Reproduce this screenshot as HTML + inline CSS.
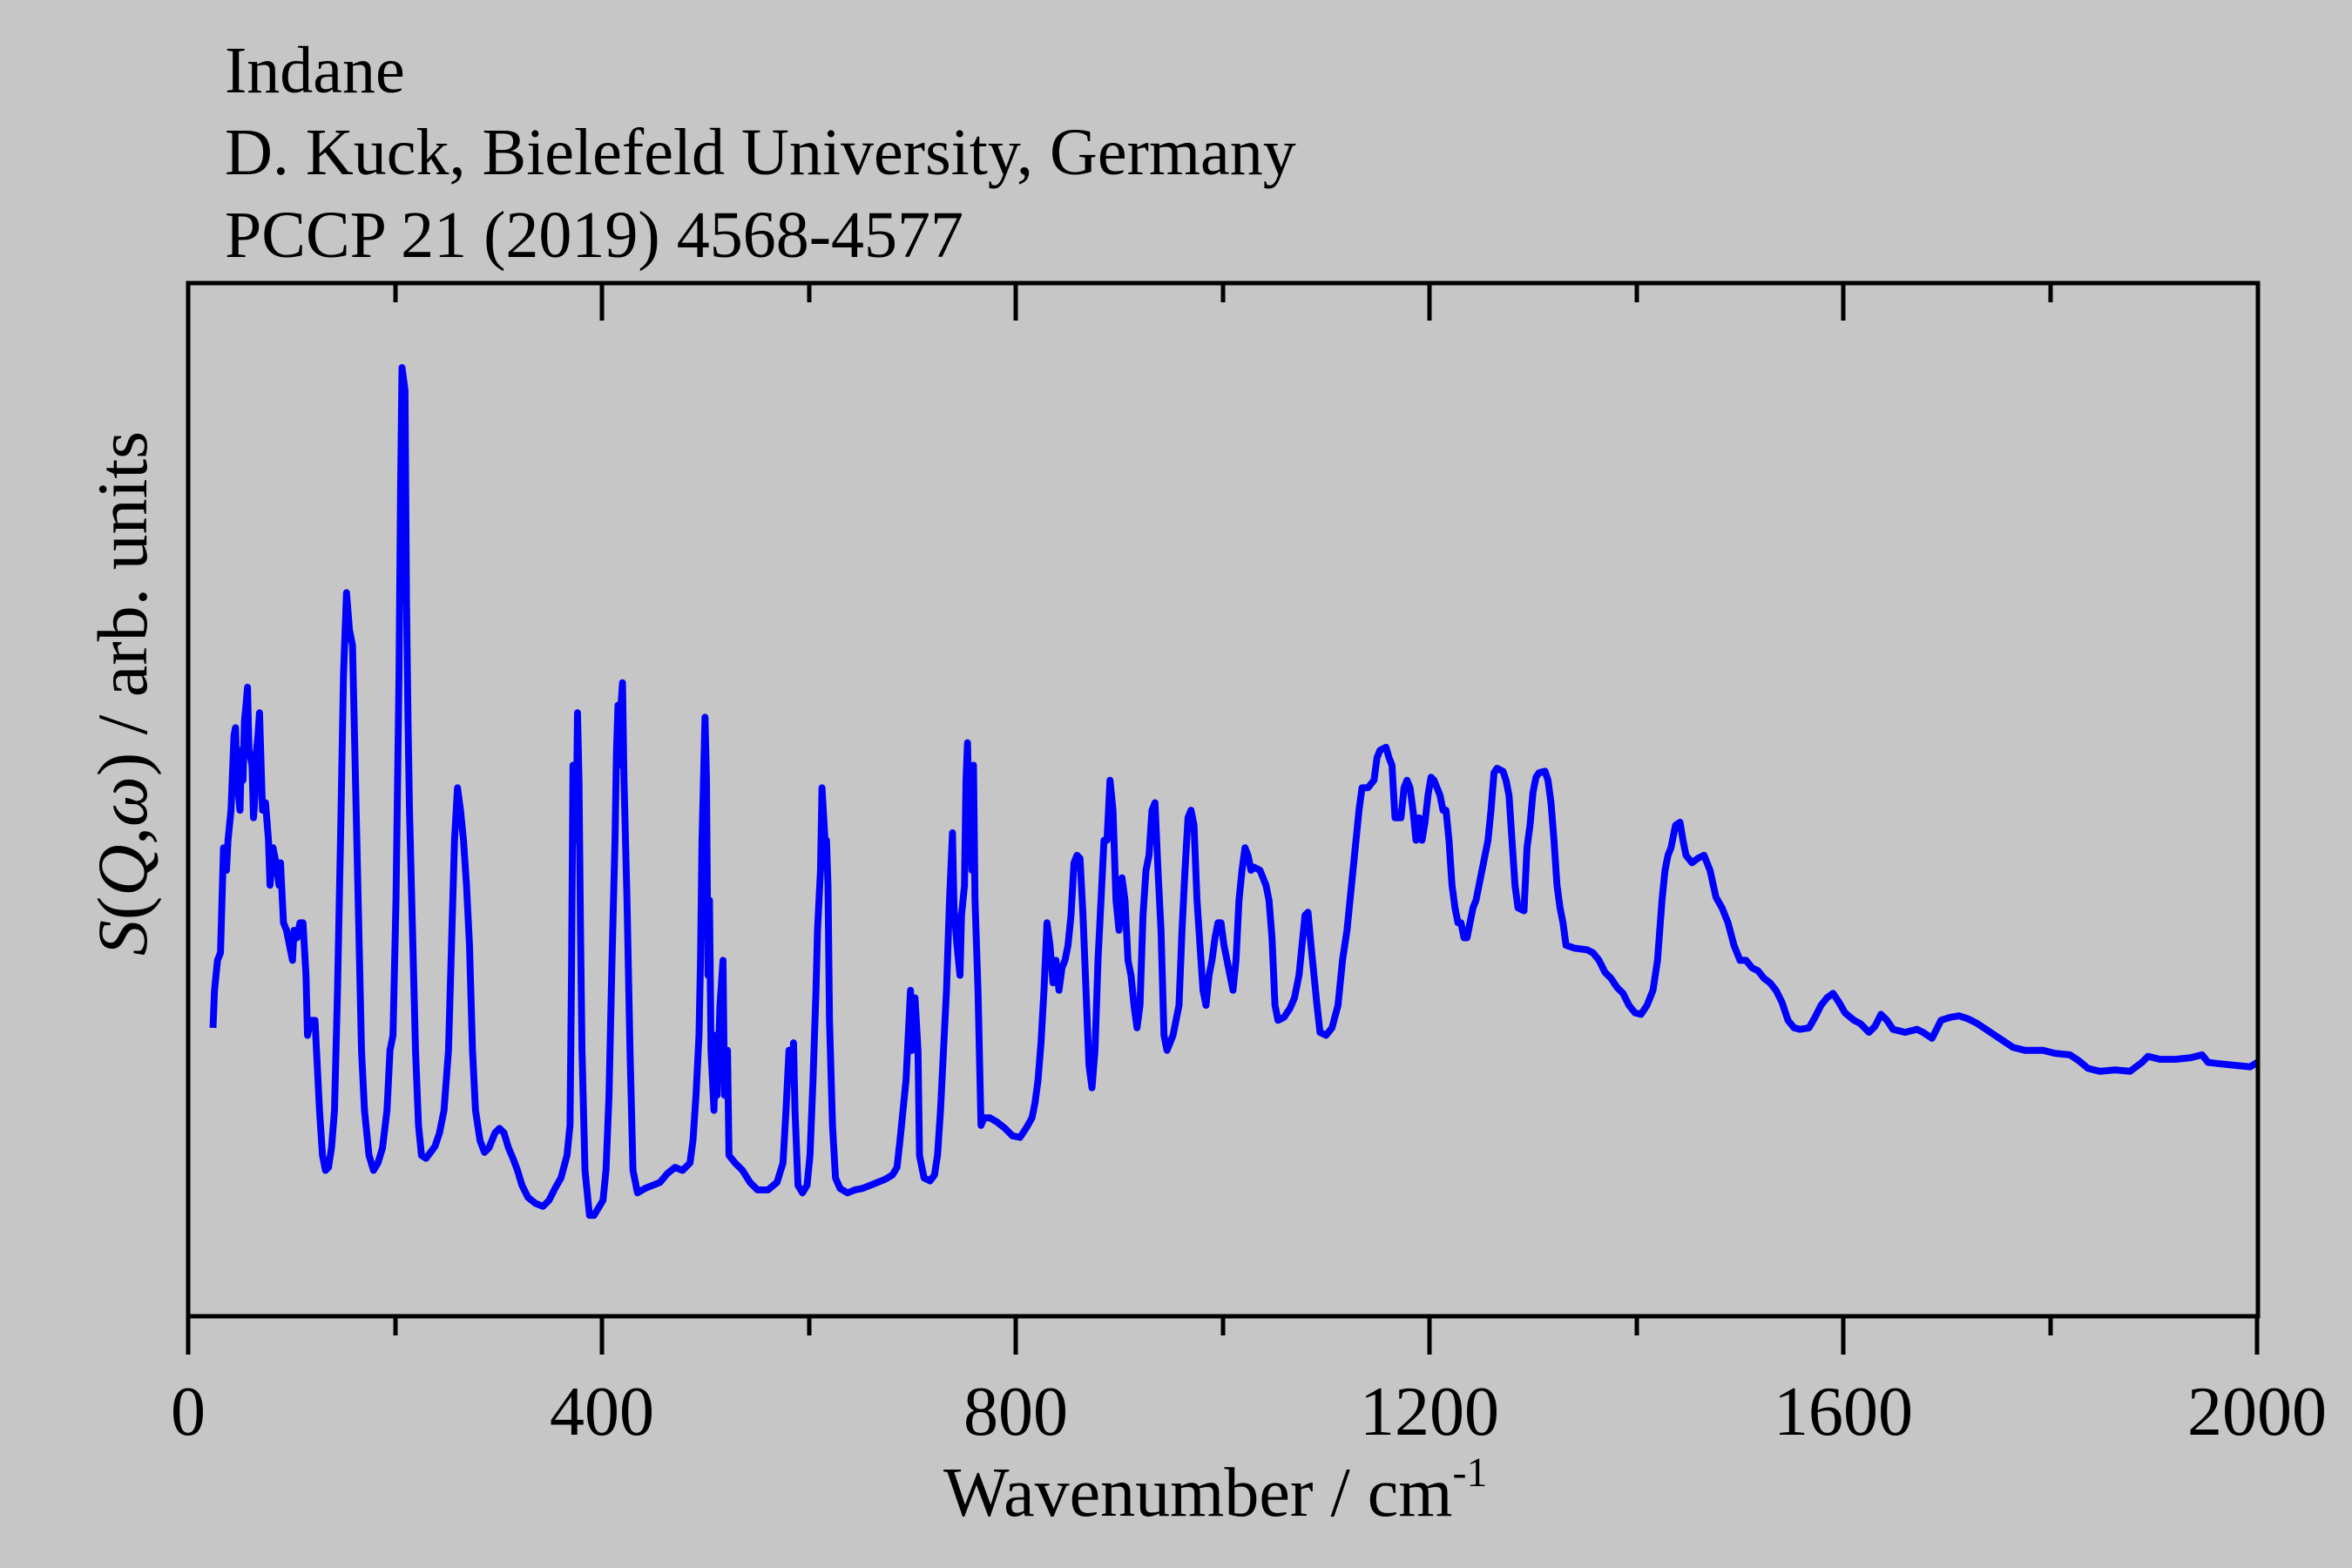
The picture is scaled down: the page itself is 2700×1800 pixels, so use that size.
<!DOCTYPE html>
<html><head><meta charset="utf-8"><style>
html,body{margin:0;padding:0;background:#c6c6c6;}
svg{display:block;}
text{font-family:"Liberation Serif",serif;fill:#000;}
</style></head><body>
<svg width="2700" height="1800" viewBox="0 0 2700 1800" xmlns="http://www.w3.org/2000/svg">
<rect width="2700" height="1800" fill="#c6c6c6"/>
<text x="258" y="106" font-size="76">Indane</text>
<text x="258" y="200" font-size="76">D. Kuck, Bielefeld University, Germany</text>
<text x="258" y="295" font-size="76">PCCP 21 (2019) 4568-4577</text>
<polyline transform="scale(1.72194,1.72249)" fill="none" stroke="#0000ff" stroke-width="4.6" stroke-linejoin="round" points="142,685 143,660 145,640 147,635 148,600 149,565 151,580 152,560 154,540 156,490 157,485 158,520 160,540 161,500 162,520 163,480 164,470 165,458 166,500 168,510 169,545 170,530 171,500 172,490 173,475 175,540 177,535 179,560 180,590 182,565 184,575 186,590 187,575 189,615 191,620 193,630 195,640 196,620 198,625 200,615 202,615 204,650 205,690 207,680 210,680 211,700 213,740 215,770 217,780 219,778 221,765 223,740 225,660 227,560 229,450 231,395 233,420 235,430 237,520 239,610 241,700 243,740 246,770 249,780 252,775 255,765 258,740 260,700 262,690 264,600 266,450 267,330 268,245 270,260 271,400 272,480 273,540 275,620 277,700 279,750 281,770 284,772 287,768 290,764 293,755 296,740 299,700 301,630 303,560 305,525 307,540 309,560 311,590 313,630 315,700 317,740 320,760 323,768 326,765 330,755 333,752 336,755 339,765 342,772 345,780 348,790 352,798 357,802 362,804 366,800 370,792 374,785 378,770 380,750 381,650 382,510 384,560 385,475 386,520 387,620 388,700 390,780 393,810 396,810 399,805 402,800 404,780 406,730 408,640 410,560 411,500 412,470 413,510 414,470 415,455 416,520 418,600 420,700 422,780 425,795 430,792 435,790 440,788 445,782 450,778 455,780 460,775 462,760 464,730 466,690 467,640 468,560 469,520 470,478 471,520 472,650 473,600 474,700 476,740 477,690 478,730 480,670 482,640 483,730 485,700 486,770 490,775 495,780 500,788 505,793 512,793 518,788 522,775 524,740 526,700 528,720 529,695 530,740 532,790 535,795 538,790 540,770 542,720 544,660 545,620 547,580 548,525 550,560 551,560 552,590 553,680 555,750 557,785 560,792 565,795 570,793 575,792 580,790 585,788 590,786 595,783 598,778 600,760 602,740 604,720 606,680 607,660 608,700 610,665 612,700 613,770 616,785 620,787 623,783 625,770 627,740 629,700 631,660 633,600 635,555 636,605 638,630 640,650 641,610 643,590 644,520 645,495 646,540 648,580 649,510 650,600 652,660 654,750 656,745 660,745 665,748 670,752 675,757 680,758 684,752 688,745 690,735 692,720 694,695 696,660 698,615 700,630 702,655 704,640 706,660 708,645 710,640 712,630 714,610 716,575 718,570 720,572 722,610 724,660 726,710 728,725 730,700 732,640 734,600 736,560 738,560 740,520 742,540 744,600 746,620 748,585 750,600 752,640 754,650 756,670 758,685 760,670 762,610 764,580 766,570 768,540 770,535 772,580 774,620 776,690 778,700 780,695 782,690 784,680 786,670 788,620 790,580 792,545 794,540 796,550 798,600 800,630 802,660 804,670 806,650 808,640 810,625 812,615 814,615 816,630 818,640 820,650 822,660 824,640 826,600 828,580 830,565 832,570 834,580 836,578 840,580 844,590 846,600 848,625 850,670 852,680 856,678 860,672 863,665 866,650 868,630 870,610 872,608 874,630 876,650 878,670 880,688 884,690 888,685 892,670 895,640 898,620 900,600 902,580 904,560 906,540 908,525 912,525 916,520 918,505 920,500 924,498 926,505 928,510 930,545 934,545 936,525 938,520 940,525 942,540 944,560 946,545 948,560 950,548 952,530 954,518 956,520 958,525 960,530 962,540 964,540 966,560 968,590 970,605 972,615 974,615 976,625 978,625 980,615 982,605 984,600 986,590 988,580 990,570 992,560 994,540 996,515 998,512 1002,514 1004,520 1006,530 1008,560 1010,590 1012,605 1016,607 1018,565 1020,550 1022,528 1024,518 1026,515 1030,514 1032,520 1034,535 1036,560 1038,590 1040,605 1042,615 1044,630 1050,632 1058,633 1062,635 1066,640 1070,648 1074,652 1078,658 1082,662 1086,670 1090,675 1094,676 1098,670 1102,660 1105,640 1108,600 1110,580 1112,570 1114,565 1117,550 1120,548 1122,560 1124,570 1128,575 1132,572 1136,570 1140,580 1144,598 1148,605 1152,615 1156,630 1160,640 1164,640 1168,645 1172,647 1176,652 1180,655 1184,660 1188,668 1192,680 1196,685 1200,686 1206,685 1210,678 1214,670 1218,665 1222,662 1226,668 1230,675 1236,680 1240,682 1246,688 1250,684 1254,676 1258,680 1262,686 1270,688 1278,686 1282,688 1288,692 1294,680 1300,678 1306,677 1312,679 1318,682 1324,686 1330,690 1336,694 1342,698 1350,700 1362,700 1370,702 1380,703 1386,707 1392,712 1400,714 1410,713 1420,714 1428,708 1432,704 1440,706 1450,706 1460,705 1468,703 1472,708 1480,709 1490,710 1500,711 1505,708"/>
<rect x="216" y="325" width="2376" height="1186" fill="none" stroke="#000" stroke-width="5"/>
<g stroke="#000" stroke-width="5">
<line x1="216" y1="1511" x2="216" y2="1555"/><line x1="691" y1="1511" x2="691" y2="1555"/><line x1="1166" y1="1511" x2="1166" y2="1555"/><line x1="1641" y1="1511" x2="1641" y2="1555"/><line x1="2116" y1="1511" x2="2116" y2="1555"/><line x1="2591" y1="1511" x2="2591" y2="1555"/>
<line x1="454" y1="1511" x2="454" y2="1533"/><line x1="929" y1="1511" x2="929" y2="1533"/><line x1="1404" y1="1511" x2="1404" y2="1533"/><line x1="1879" y1="1511" x2="1879" y2="1533"/><line x1="2354" y1="1511" x2="2354" y2="1533"/>
<line x1="691" y1="325" x2="691" y2="368"/><line x1="1166" y1="325" x2="1166" y2="368"/><line x1="1641" y1="325" x2="1641" y2="368"/><line x1="2116" y1="325" x2="2116" y2="368"/>
<line x1="454" y1="325" x2="454" y2="347"/><line x1="929" y1="325" x2="929" y2="347"/><line x1="1404" y1="325" x2="1404" y2="347"/><line x1="1879" y1="325" x2="1879" y2="347"/><line x1="2354" y1="325" x2="2354" y2="347"/>
</g>
<g font-size="80" text-anchor="middle">
<text x="216" y="1647">0</text><text x="691" y="1647">400</text><text x="1166" y="1647">800</text><text x="1641" y="1647">1200</text><text x="2116" y="1647">1600</text><text x="2591" y="1647">2000</text>
</g>
<text x="1083" y="1740" font-size="80">Wavenumber / cm<tspan dy="-34" font-size="48">-1</tspan></text>
<text transform="translate(168,796) rotate(-90)" text-anchor="middle" font-size="82"><tspan font-style="italic">S</tspan>(<tspan font-style="italic">Q</tspan>,<tspan font-style="italic">ω</tspan>) / arb. units</text>
</svg>
</body></html>
